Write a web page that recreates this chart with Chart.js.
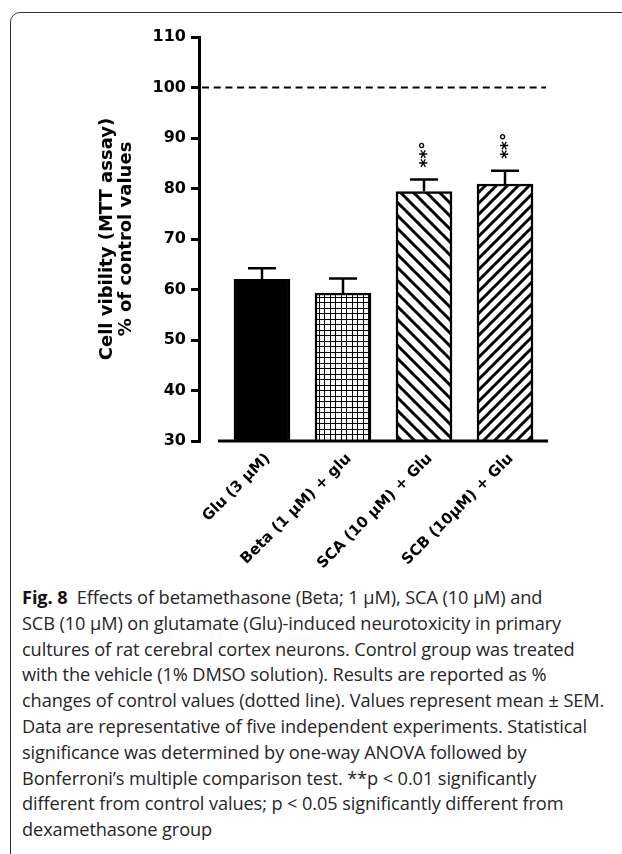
<!DOCTYPE html>
<html><head><meta charset="utf-8">
<script src="https://cdn.jsdelivr.net/npm/chart.js@4.4.0/dist/chart.umd.min.js"></script>
<style>
html,body{margin:0;padding:0;background:#fff;width:622px;height:854px;overflow:hidden;}
#frame{position:absolute;left:10px;top:12px;width:700px;height:900px;border:1.5px solid #333;border-radius:10px;box-sizing:border-box;}
#c{position:absolute;left:0;top:0;}
#cap{position:absolute;left:22px;top:585px;font-family:"Open Sans",sans-serif;font-size:18.2px;line-height:25.8px;color:#262626;white-space:nowrap;letter-spacing:-0.1px;}
#cap b{font-weight:700;color:#111;}
</style></head><body>
<div id="frame"></div>
<canvas id="c" width="622" height="580"></canvas>
<div id="cap"><b>Fig. 8</b>&nbsp; Effects of betamethasone (Beta; 1 μM), SCA (10 μM) and<br>SCB (10 μM) on glutamate (Glu)-induced neurotoxicity in primary<br>cultures of rat cerebral cortex neurons. Control group was treated<br>with the vehicle (1% DMSO solution). Results are reported as %<br>changes of control values (dotted line). Values represent mean ± SEM.<br>Data are representative of five independent experiments. Statistical<br>significance was determined by one-way ANOVA followed by<br>Bonferroni’s multiple comparison test. **p &lt; 0.01 significantly<br>different from control values; p &lt; 0.05 significantly different from<br>dexamethasone group</div>
<script>
// ---- data ----
const categories = ['Glu (3 μM)', 'Beta (1 μM) + glu', 'SCA (10 μM) + Glu', 'SCB (10μM) + Glu'];
const meanValues = [62.0, 59.3, 79.4, 80.9];
const semValues = [2.2, 2.9, 2.4, 2.6];
const significance = ['', '', '**°', '**°'];
const controlValue = 100;
const yMin = 30, yMax = 110, yStep = 10;
const yTitle = ['Cell vibility (MTT assay)', '% of control values'];

// ---- layout constants ----
const CANVAS_H = 580;
const PLOT_LEFT = 199, PLOT_RIGHT = 548, PLOT_TOP = 37, PLOT_BOTTOM = 441;
const FIRST_CENTER = 262, STEP_PX = 81;
const X_MIN = (PLOT_LEFT - FIRST_CENTER) / STEP_PX;
const X_MAX = (PLOT_RIGHT - FIRST_CENTER) / STEP_PX;
const AXIS_START = (218 - FIRST_CENTER) / STEP_PX;

function hatch(dir, p, lw) {
  const c = document.createElement('canvas'); c.width = p; c.height = p;
  const g = c.getContext('2d');
  g.fillStyle = '#fff'; g.fillRect(0, 0, p, p);
  g.strokeStyle = '#000'; g.lineWidth = lw;
  g.beginPath();
  for (let k = -1; k <= 1; k++) {
    if (dir === 'down') { g.moveTo(k * p - 1, -1); g.lineTo(k * p + p + 1, p + 1); }
    else { g.moveTo(k * p - 1, p + 1); g.lineTo(k * p + p + 1, -1); }
  }
  g.stroke();
  return g.createPattern(c, 'repeat');
}
function grid() {
  const c = document.createElement('canvas'); c.width = 11; c.height = 11;
  const g = c.getContext('2d');
  g.fillStyle = '#fff'; g.fillRect(0, 0, 11, 11);
  g.fillStyle = '#000';
  g.fillRect(0, 0, 11, 1); g.fillRect(0, 5, 11, 1);
  g.fillRect(0, 0, 1, 11); g.fillRect(5, 0, 1, 11);
  return g.createPattern(c, 'repeat');
}
const ctx0 = document.getElementById('c').getContext('2d');
const fills = ['#000', grid(), hatch('down', 13, 3), hatch('up', 11, 3)];

const extras = {
  id: 'extras',
  afterDatasetsDraw(chart) {
    const ctx = chart.ctx, x = chart.scales.x, y = chart.scales.y;
    ctx.save();
    ctx.strokeStyle = '#000'; ctx.fillStyle = '#000';
    // x baseline
    ctx.lineWidth = 3;
    ctx.beginPath(); ctx.moveTo(x.getPixelForValue(AXIS_START), y.bottom); ctx.lineTo(x.right, y.bottom); ctx.stroke();
    // control dashed line
    const yc = y.getPixelForValue(controlValue);
    ctx.setLineDash([7, 4.7]); ctx.lineWidth = 2;
    ctx.beginPath(); ctx.moveTo(x.left + 3, yc); ctx.lineTo(x.right - 2, yc); ctx.stroke();
    ctx.setLineDash([]);
    // error bars + significance
    meanValues.forEach((m, i) => {
      const px = x.getPixelForValue(i);
      const y0 = y.getPixelForValue(m), y1 = y.getPixelForValue(m + semValues[i]);
      ctx.lineWidth = 2.5;
      ctx.beginPath(); ctx.moveTo(px, y0); ctx.lineTo(px, y1);
      ctx.moveTo(px - 14, y1); ctx.lineTo(px + 14, y1); ctx.stroke();
      if (significance[i]) {
        ctx.save();
        ctx.translate(px + 4, y1 - 12); ctx.rotate(-Math.PI / 2);
        ctx.font = 'bold 17px "DejaVu Sans"'; ctx.textAlign = 'left'; ctx.textBaseline = 'middle';
        ctx.fillText(significance[i], 0, 0);
        ctx.restore();
      }
    });
    ctx.restore();
  }
};

new Chart(ctx0, {
  type: 'bar',
  data: {
    datasets: [{
      data: meanValues.map((v, i) => ({ x: i, y: v })),
      backgroundColor: fills,
      borderColor: '#000',
      borderWidth: 2.5,
      borderSkipped: 'bottom',
      barThickness: 56
    }]
  },
  options: {
    responsive: false, animation: false,
    layout: { padding: { left: 0, right: 622 - PLOT_RIGHT, top: PLOT_TOP, bottom: 0 } },
    plugins: { legend: { display: false }, tooltip: { enabled: false } },
    scales: {
      x: {
        type: 'linear', min: X_MIN, max: X_MAX, offset: false, bounds: 'data',
        afterBuildTicks: s => { s.ticks = categories.map((c, i) => ({ value: i })); },
        afterFit: s => { s.height = CANVAS_H - PLOT_BOTTOM; },
        grid: { display: false, offset: false }, border: { display: false },
        ticks: {
          autoSkip: false, minRotation: 45, maxRotation: 45, padding: 1, labelOffset: 6,
          callback: v => categories[v] ?? '',
          font: { family: '"DejaVu Sans"', size: 15, weight: 'bold' }, color: '#000'
        }
      },
      y: {
        min: yMin, max: yMax,
        afterFit: s => { s.width = PLOT_LEFT; },
        ticks: { stepSize: yStep, padding: 5, font: { family: '"DejaVu Sans"', size: 16, weight: 'bold' }, color: '#000' },
        grid: { drawOnChartArea: false, drawTicks: true, tickLength: 8, lineWidth: 3, color: '#000' },
        border: { display: true, width: 3, color: '#000' },
        title: {
          display: true, text: yTitle, color: '#000',
          font: { family: '"DejaVu Sans"', size: 18, weight: 'bold', lineHeight: 1.05 },
          padding: { top: 98, bottom: 0 }
        }
      }
    }
  },
  plugins: [extras]
});
</script>
</body></html>
